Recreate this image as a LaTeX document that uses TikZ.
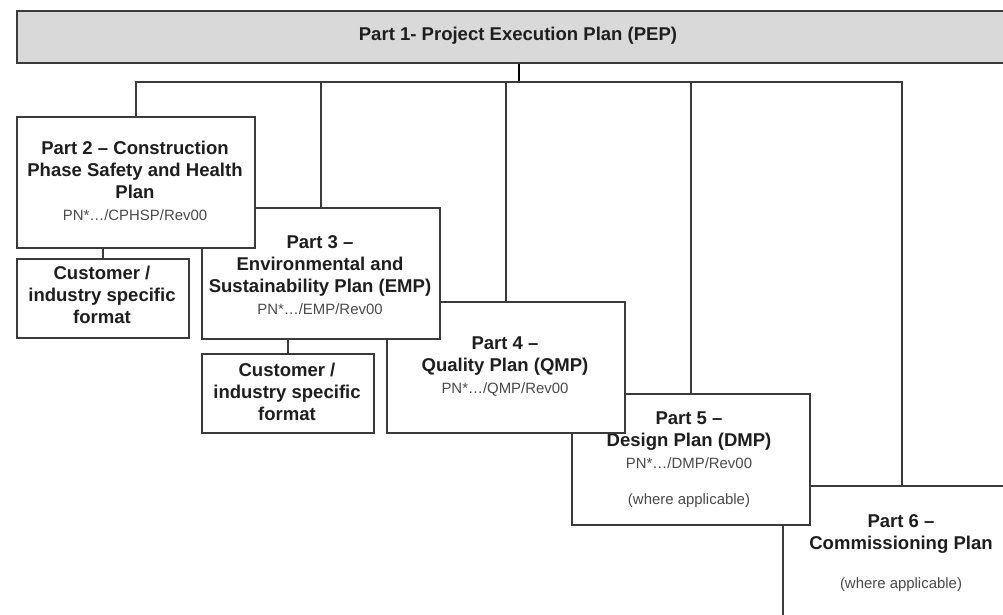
\documentclass[tikz,border=0pt]{standalone}
\usepackage{fontspec}
\setmainfont{Liberation Sans}
\definecolor{linegray}{HTML}{3A3A3A}
\definecolor{titlegray}{HTML}{D9D9D9}
\definecolor{textdark}{HTML}{1E1E1E}
\definecolor{subgray}{HTML}{4A4A4A}
\newcommand{\refno}[1]{{\fontsize{11.2}{13}\selectfont\mdseries\color{subgray}#1}}
\tikzset{
  partbox/.style={draw=linegray, line width=1.4pt, fill=white, inner sep=0pt,
    anchor=north west, minimum width=178.5pt, minimum height=98.6pt},
  formbox/.style={partbox, minimum width=129pt, minimum height=59.25pt},
  parttext/.style={align=center, inner sep=0pt, anchor=north, text=textdark,
    font=\fontsize{13.9}{16.5}\selectfont\bfseries},
  conn/.style={draw=linegray, line width=1.4pt},
}
\begin{document}
\begin{tikzpicture}[x=0.75pt, y=-0.75pt]
    \useasboundingbox (0,0) rectangle (1003,614);
    \clip (0,0) rectangle (1003,614);

    % Part 1(灰色の帯)
    \node[partbox, fill=titlegray, minimum width=753pt, minimum height=39pt] (title) at (16,10) {};
    \node[parttext, anchor=center] (titletext) at (518,36) {Part 1- Project Execution Plan (PEP)};
    \coordinate (bus) at (0,82);

    % Part 6 から順に重ねる
    \node[partbox, minimum height=108.75pt] (p6) at (782,485) {};
    \node[parttext] (t6) at (901,514) {Part 6 –\\Commissioning Plan\\[13pt]\refno{(where applicable)}};

    \node[partbox] (p5) at (571,393) {};
    \node[parttext] (t5) at (689,411) {Part 5 –\\Design Plan (DMP)\\\refno{PN*…/DMP/Rev00}\\[10.5pt]\refno{(where applicable)}};

    \node[partbox] (p4) at (386,301) {};
    \node[parttext] (t4) at (505,336) {Part 4 –\\Quality Plan (QMP)\\\refno{PN*…/QMP/Rev00}};

    \node[partbox] (p3) at (201,207) {};
    \node[parttext] (t3) at (320,235) {Part 3 –\\Environmental and\\Sustainability Plan (EMP)\\\refno{PN*…/EMP/Rev00}};

    \node[partbox] (p2) at (16,116) {};
    \node[parttext] (t2) at (135,141) {Part 2 – Construction\\Phase Safety and Health\\Plan\\\refno{PN*…/CPHSP/Rev00}};

    % 顧客・業界別の様式
    \node[formbox] (c2) at (16,258) {};
    \node[parttext] (tc2) at (102,266) {Customer /\\industry specific\\format};

    \node[formbox] (c3) at (201,353) {};
    \node[parttext] (tc3) at (287,363) {Customer /\\industry specific\\format};

    % 接続線
    \draw[conn, draw=black, line width=1.8pt] (title.south) -- (title.south |- bus);
    \draw[conn] (p2.north) |- (p6.north |- bus) -- (p6.north);
    \draw[conn] (p3.north) -- (p3.north |- bus);
    \draw[conn] (p4.north) -- (p4.north |- bus);
    \draw[conn] (p5.north) -- (p5.north |- bus);
    \draw[conn] (p2.south -| c2.north) -- (c2.north);
    \draw[conn] (p3.south -| c3.north) -- (c3.north);
\end{tikzpicture}
\end{document}
